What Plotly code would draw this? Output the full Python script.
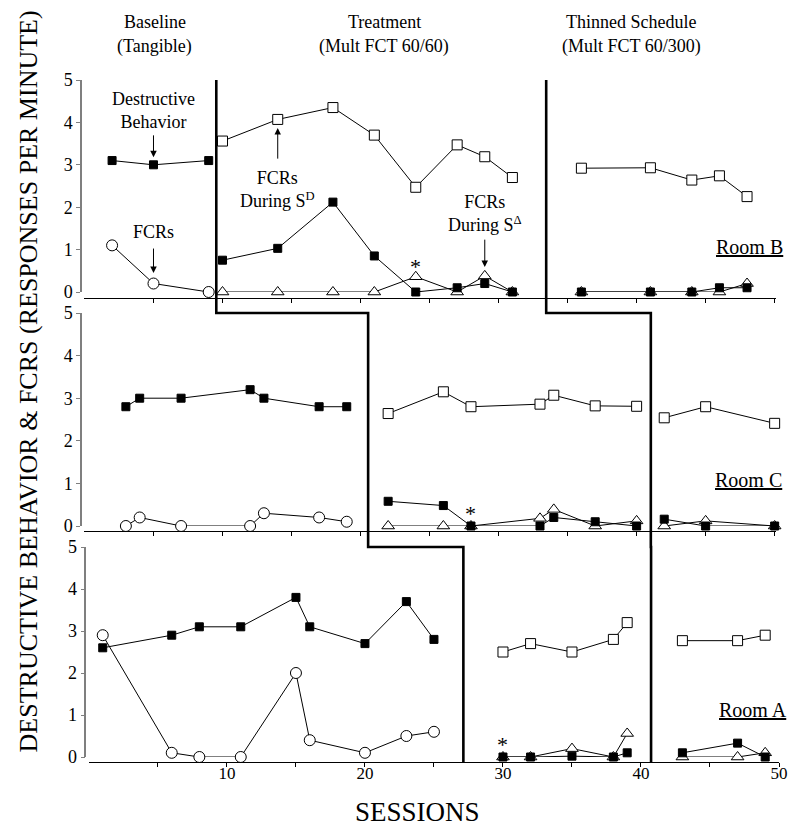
import plotly.graph_objects as go

# ---------------- DATA ----------------
# Room B (top panel)
rb_base_sess = [2, 5, 9]
rb_base_db = [3.1, 3.0, 3.1]
rb_base_fcr = [1.1, 0.2, 0.0]
rb_trt_sess = [10, 14, 18, 21, 24, 27, 29, 31]
rb_trt_sd = [3.56, 4.07, 4.35, 3.70, 2.47, 3.47, 3.19, 2.70]
rb_trt_sdelta = [0, 0, 0, 0, 0.36, 0, 0.38, 0]
rb_trt_db = [0.75, 1.03, 2.12, 0.85, 0, 0.1, 0.2, 0]
rb_thin_sess = [36, 41, 44, 46, 48]
rb_thin_sd = [2.92, 2.93, 2.64, 2.74, 2.25]
rb_thin_sdelta = [0, 0, 0, 0, 0.2]
rb_thin_db = [0, 0, 0, 0.1, 0.1]

# Room C (middle panel)
rc_base_sess = [3, 4, 7, 12, 13, 17, 19]
rc_base_db = [2.8, 3.0, 3.0, 3.2, 3.0, 2.8, 2.8]
rc_base_fcr = [0, 0.2, 0, 0, 0.3, 0.2, 0.1]
rc_trt_sess = [22, 26, 28, 33, 34, 37, 40]
rc_trt_sd = [2.64, 3.15, 2.80, 2.86, 3.07, 2.82, 2.81]
rc_trt_sdelta = [0, 0, 0, 0.18, 0.39, 0, 0.12]
rc_trt_db = [0.58, 0.48, 0, 0, 0.2, 0.1, 0]
rc_thin_sess = [42, 45, 50]
rc_thin_sd = [2.54, 2.80, 2.41]
rc_thin_sdelta = [0, 0.12, 0]
rc_thin_db = [0.16, 0, 0]

# Room A (bottom panel)
ra_base_sess = [1, 6, 8, 11, 15, 16, 20, 23, 25]
ra_base_db = [2.6, 2.9, 3.1, 3.1, 3.8, 3.1, 2.7, 3.7, 2.8]
ra_base_fcr = [2.9, 0.1, 0, 0, 2.0, 0.4, 0.1, 0.5, 0.6]
ra_trt_sess = [30, 32, 35, 38, 39]
ra_trt_sd = [2.5, 2.7, 2.5, 2.8, 3.2]
ra_trt_sdelta = [0, 0, 0.2, 0, 0.56]
ra_trt_db = [0, 0, 0.02, 0, 0.1]
ra_thin_sess = [43, 47, 49]
ra_thin_sd = [2.77, 2.77, 2.9]
ra_thin_sdelta = [0, 0, 0.1]
ra_thin_db = [0.1, 0.33, 0]

room_names = ["Room B", "Room C", "Room A"]
phase1_change = [9.55, 20.55, 27.13]   # per panel, session units
phase2_change = [33.45, 41.03, 40.73]
asterisk_pts = [(24, 0.71), (28, 0.40), (30, 0.42)]
phase_titles = [("Baseline", "(Tangible)", 5.1), ("Treatment", "(Mult FCT 60/60)", 21.7),
                ("Thinned Schedule", "(Mult FCT 60/300)", 39.6)]
x_tickvals = [5, 10, 15, 20, 25, 30, 35, 40, 45, 50]
x_ticktext = ["", "10", "", "20", "", "30", "", "40", "", "50"]
y_tickvals = [0, 1, 2, 3, 4, 5]

# ---------------- LAYOUT GEOMETRY ----------------
OFF = 8  # page body margin
W, H = 800 - OFF, 836 - 2 * OFF
ML = 81 - OFF
MT = 80 - OFF
PLOT_BOTTOM = 762 - OFF
PLOT_RIGHT = 785 - OFF
MB = H - PLOT_BOTTOM
MR = W - PLOT_RIGHT
PW, PH = W - ML - MR, H - MT - MB
FONT = "Liberation Serif, Times New Roman, serif"

def py(pix):  # reference pixel-y -> paper
    return (PLOT_BOTTOM - (pix - OFF)) / PH

def pxx(pix):  # reference pixel-x -> paper
    return ((pix - OFF) - ML) / PW

ydoms = [[py(292), py(80)], [py(526), py(313)], [py(757), py(547)]]
xaxis_pos = [py(298), py(531), py(762)]
xdoms = [[pxx(84.5), pxx(782.0)], [pxx(84.5), pxx(782.0)], [pxx(89.0), pxx(785.0)]]
xranges = [[0, 50.1], [0, 50.1], [0, 50.0]]
yaxis_pos = [pxx(81), pxx(81), pxx(85.5)]

def to_paper_x(i, v):
    d0, d1 = xdoms[i]
    r0, r1 = xranges[i]
    return d0 + (v - r0) / (r1 - r0) * (d1 - d0)

fig = go.Figure()

rooms = [
    (rb_base_sess, rb_base_db, rb_base_fcr, rb_trt_sess, rb_trt_sd, rb_trt_sdelta, rb_trt_db,
     rb_thin_sess, rb_thin_sd, rb_thin_sdelta, rb_thin_db),
    (rc_base_sess, rc_base_db, rc_base_fcr, rc_trt_sess, rc_trt_sd, rc_trt_sdelta, rc_trt_db,
     rc_thin_sess, rc_thin_sd, rc_thin_sdelta, rc_thin_db),
    (ra_base_sess, ra_base_db, ra_base_fcr, ra_trt_sess, ra_trt_sd, ra_trt_sdelta, ra_trt_db,
     ra_thin_sess, ra_thin_sd, ra_thin_sdelta, ra_thin_db),
]

LINE = dict(color="black", width=1)
M_FILLED = dict(symbol="square", size=8, color="black", line=dict(color="black", width=1))
M_OSQ = dict(symbol="square", size=10, color="white", line=dict(color="black", width=1))
M_CIRC = dict(symbol="circle", size=11, color="white", line=dict(color="black", width=1))
M_TRI = dict(symbol="triangle-up", size=11, color="white", line=dict(color="black", width=1))

def add(i, x, y, marker):
    sfx = "" if i == 0 else str(i + 1)
    fig.add_trace(go.Scatter(x=x, y=y, mode="lines+markers", line=LINE, marker=marker,
                             xaxis="x" + sfx, yaxis="y" + sfx, cliponaxis=False,
                             showlegend=False, hoverinfo="skip"))

for i, r in enumerate(rooms):
    (bs, bdb, bfcr, ts, tsd, tsdel, tdb, hs, hsd, hsdel, hdb) = r
    add(i, bs, bfcr, M_CIRC)
    add(i, bs, bdb, M_FILLED)
    add(i, ts, tsd, M_OSQ)
    add(i, ts, tsdel, M_TRI)
    add(i, ts, tdb, M_FILLED)
    add(i, hs, hsd, M_OSQ)
    add(i, hs, hsdel, M_TRI)
    add(i, hs, hdb, M_FILLED)

layout = dict(
    width=W, height=H, margin=dict(l=ML, r=MR, t=MT, b=MB),
    plot_bgcolor="white", paper_bgcolor="white",
    font=dict(family=FONT, size=17, color="black"),
    showlegend=False,
)
for i in range(3):
    sfx = "" if i == 0 else str(i + 1)
    layout["xaxis" + sfx] = dict(
        domain=xdoms[i], range=xranges[i], anchor="free", position=xaxis_pos[i],
        showline=True, linecolor="black", linewidth=1, showgrid=False, zeroline=False,
        ticks="outside", ticklen=4, tickcolor="black", tickwidth=1,
        tickvals=x_tickvals, ticktext=x_ticktext, showticklabels=(i == 2),
        ticklabelstandoff=-8,
        tickfont=dict(family=FONT, size=17, color="black"),
    )
    layout["yaxis" + sfx] = dict(
        domain=ydoms[i], range=[0, 5], anchor="free", position=yaxis_pos[i],
        showline=True, linecolor="#7f7f7f", linewidth=1.5, showgrid=False, zeroline=False,
        ticks="outside", ticklen=4, tickcolor="#7f7f7f", tickwidth=1,
        tickvals=y_tickvals, tickfont=dict(family=FONT, size=18, color="black"),
    )
fig.update_layout(**layout)

# phase change lines
shapes = []
for ph in (phase1_change, phase2_change):
    pts = [(to_paper_x(0, ph[0]), ydoms[0][1])]
    for i in range(3):
        xp = to_paper_x(i, ph[i])
        if i > 0:
            pts.append((xp, ydoms[i][1]))
        nxt = ydoms[i + 1][1] if i < 2 else 0.0
        pts.append((xp, nxt))
    path = "M " + " L ".join(f"{x:.5f},{y:.5f}" for x, y in pts)
    shapes.append(dict(type="path", path=path, xref="paper", yref="paper",
                       line=dict(color="black", width=2.6)))
fig.update_layout(shapes=shapes)

ann = []
# phase titles
for t1, t2, xv in phase_titles:
    ann.append(dict(x=xv, y=py(22), xref="x", yref="paper", text=t1, showarrow=False,
                    xanchor="center", yanchor="middle", font=dict(size=18)))
    ann.append(dict(x=xv, y=py(46), xref="x", yref="paper", text=t2, showarrow=False,
                    xanchor="center", yanchor="middle", font=dict(size=18)))
# room labels
room_lab_pos = [(48.2, 1.07), (48.1, 1.08), (48.1, 1.12)]
for i, (nm, (xv, yv)) in enumerate(zip(room_names, room_lab_pos)):
    sfx = "" if i == 0 else str(i + 1)
    ann.append(dict(x=xv, y=yv, xref="x" + sfx, yref="y" + sfx, text=f"<u>{nm}</u>",
                    showarrow=False, font=dict(size=20)))
# asterisks
for i, (xv, yv) in enumerate(asterisk_pts):
    sfx = "" if i == 0 else str(i + 1)
    ann.append(dict(x=xv, y=yv, xref="x" + sfx, yref="y" + sfx, text="*",
                    showarrow=False, yshift=-5, font=dict(size=22)))

# labels with arrows (top panel)
labels = [
    ("Destructive<br>Behavior", 5, 4.27, 3.73, 3.18),
    ("FCRs", 5, 1.42, 1.06, 0.45),
    ("FCRs<br>During S<sup>D</sup>", 14, 2.42, 3.11, 3.87),
    ("FCRs<br>During S<sup>\u0394</sup>", 29, 1.85, 1.27, 0.59),
]
for txt, xv, ty, tail, head in labels:
    ann.append(dict(x=xv, y=ty, xref="x", yref="y", text=txt, showarrow=False,
                    font=dict(size=18)))
    ann.append(dict(x=xv, y=head, xref="x", yref="y", ax=xv, ay=tail, axref="x", ayref="y",
                    text="", showarrow=True, arrowhead=2, arrowsize=1.3, arrowwidth=1,
                    arrowcolor="black"))

# axis titles
ann.append(dict(x=pxx(28), y=py(381), xref="paper", yref="paper",
                text="DESTRUCTIVE BEHAVIOR & FCRS (RESPONSES PER MINUTE)", textangle=-90,
                xanchor="center", yanchor="middle", showarrow=False, font=dict(size=26)))
ann.append(dict(x=pxx(420), y=py(812), xref="paper", yref="paper", text="SESSIONS",
                xanchor="center", yanchor="middle", showarrow=False, font=dict(size=27)))
fig.update_layout(annotations=ann)

fig.write_html("out.html")
